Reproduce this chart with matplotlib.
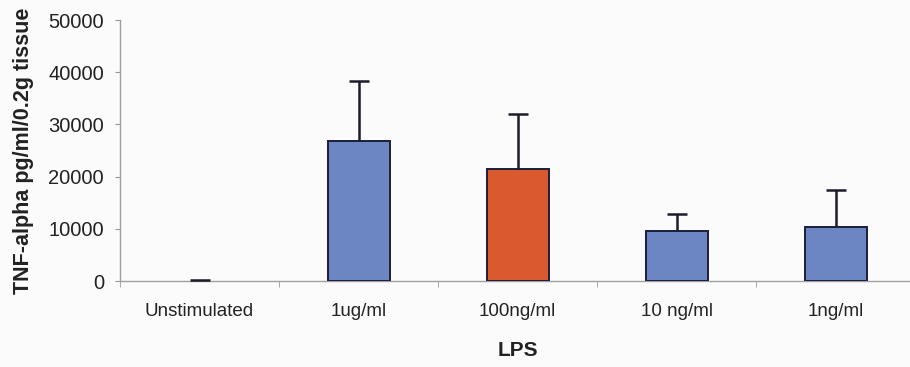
import numpy as np
import matplotlib.pyplot as plt
from matplotlib.ticker import FixedLocator

categories = ["Unstimulated", "1ug/ml", "100ng/ml", "10 ng/ml", "1ng/ml"]
tnf_means = [0, 26800, 21400, 9600, 10300]
tnf_errors = [150, 11600, 10500, 3250, 7050]
bar_colors = ["#6b86c2", "#6b86c2", "#d95a2e", "#6b86c2", "#6b86c2"]
y_ticks = [0, 10000, 20000, 30000, 40000, 50000]


def main():
    plt.rcParams["font.family"] = ["Liberation Sans", "DejaVu Sans"]
    fig = plt.figure(figsize=(9.1, 3.67), dpi=100)
    fig.patch.set_facecolor("#fbfbfb")
    ax = fig.add_axes([0.1319, 0.2343, 0.8736, 0.7112])
    ax.set_facecolor("#fbfbfb")

    x = np.arange(len(categories))
    widths = [0 if v == 0 else 1.4 for v in tnf_means]
    ax.bar(x, tnf_means, width=0.39, color=bar_colors, edgecolor="#1c1f3a",
           linewidth=widths, zorder=3)
    # upper error only: hide the lower caps
    _, caps, _ = ax.errorbar(x, tnf_means, yerr=[np.zeros(len(x)), tnf_errors],
                             fmt="none", ecolor="#1c1c2a", elinewidth=1.8,
                             capsize=7, capthick=1.8, zorder=4)
    caps[0].set_visible(False)

    ax.set_xlim(-0.5, len(categories) - 0.5)
    ax.set_ylim(0, 50000)
    ax.set_yticks(y_ticks)
    ax.set_yticklabels([str(t) for t in y_ticks], fontsize=14.5, color="#222222")

    ax.set_xticks(x)
    ax.set_xticklabels(categories, fontsize=13.5, color="#222222")
    ax.xaxis.set_minor_locator(FixedLocator(np.arange(len(categories)) - 0.5))
    ax.tick_params(axis="x", which="major", length=0, pad=16)
    ax.tick_params(axis="x", which="minor", length=4, color="#999999")
    ax.tick_params(axis="y", length=3.6, color="#999999", pad=8)

    for side in ["top", "right"]:
        ax.spines[side].set_visible(False)
    for side in ["left", "bottom"]:
        ax.spines[side].set_color("#a0a0a0")
        ax.spines[side].set_linewidth(1.0)

    ax.set_xlabel("LPS", fontsize=15, fontweight="bold", color="#222222",
                  labelpad=15)
    ax.set_ylabel("TNF-alpha pg/ml/0.2g tissue", fontsize=15.5,
                  fontweight="bold", color="#222222", labelpad=10)

    fig.savefig("out.png", dpi=100, facecolor=fig.get_facecolor())


if __name__ == "__main__":
    main()
